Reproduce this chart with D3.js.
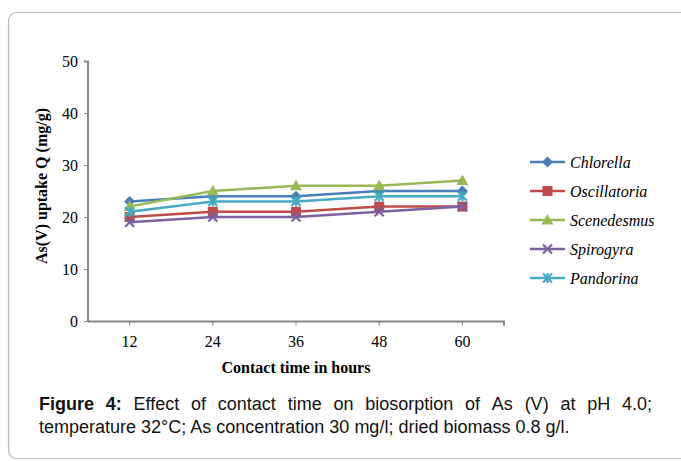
<!DOCTYPE html>
<html><head><meta charset="utf-8">
<script src="https://cdn.jsdelivr.net/npm/d3@7"></script>
<style>body{margin:0;background:#fff}svg{display:block}</style>
</head><body>
<svg id="c" width="681" height="461"></svg>
<script>
const categories = ["12","24","36","48","60"];
const seriesNames = ["Chlorella","Oscillatoria","Scenedesmus","Spirogyra","Pandorina"];
const chlorella = [23,24,24,25,25];
const oscillatoria = [20,21,21,22,22];
const scenedesmus = [22,25,26,26,27];
const spirogyra = [19,20,20,21,22];
const pandorina = [21,23,23,24,24];
const yTicks = [0,10,20,30,40,50];
const colors = ["#4A7EBB","#BE4B48","#98B954","#7D60A0","#46AAC5"];
const symbols = ["diamond","square","triangle","x","star"];
const values = [chlorella, oscillatoria, scenedesmus, spirogyra, pandorina];

const svg = d3.select("#c");
svg.append("rect").attr("x",8.5).attr("y",12.5).attr("width",700).attr("height",446)
  .attr("rx",8).attr("fill","none").attr("stroke","#b9b9b9").attr("stroke-width",1.2);

const x = d3.scaleBand().domain(categories).range([88,504]);
const y = d3.scaleLinear().domain([0,50]).range([321,61]);
const axisColor = "#868686";
const serif = "'Liberation Serif','Times New Roman',serif";

// y axis
const ya = svg.append("g").attr("transform","translate(88,0)")
  .call(d3.axisLeft(y).tickValues(yTicks).tickSize(4).tickPadding(6));
ya.select(".domain").attr("stroke",axisColor).attr("stroke-width",2).attr("d","M-4,61.5H0V321.5");
ya.selectAll(".tick line").attr("stroke",axisColor).attr("stroke-width",1);
ya.selectAll(".tick text").attr("font-family",serif).attr("font-size",16).attr("fill","#000");

// x axis
const xa = svg.append("g").attr("transform","translate(0,321.5)")
  .call(d3.axisBottom(x).tickSize(4).tickPadding(10));
xa.select(".domain").attr("stroke",axisColor).attr("stroke-width",2).attr("d","M88,0H504V4");
xa.selectAll(".tick line").attr("stroke",axisColor).attr("stroke-width",1);
xa.selectAll(".tick text").attr("font-family",serif).attr("font-size",16).attr("fill","#000");

svg.append("text").attr("x",296).attr("y",373).attr("text-anchor","middle")
  .attr("font-family",serif).attr("font-weight","bold").attr("font-size",16)
  .text("Contact time in hours");
svg.append("text").attr("transform","translate(47,186) rotate(-90)").attr("text-anchor","middle")
  .attr("font-family",serif).attr("font-weight","bold").attr("font-size",16)
  .text("As(V) uptake Q (mg/g)");

function drawMarker(g, sym, color, cx, cy){
  if(sym==="diamond"){
    g.append("path").attr("d",`M${cx},${cy-5.5}L${cx+5.5},${cy}L${cx},${cy+5.5}L${cx-5.5},${cy}Z`).attr("fill",color);
  } else if(sym==="square"){
    g.append("rect").attr("x",cx-5).attr("y",cy-5).attr("width",10).attr("height",10).attr("fill",color);
  } else if(sym==="triangle"){
    g.append("path").attr("d",`M${cx},${cy-6}L${cx+6},${cy+4.5}L${cx-6},${cy+4.5}Z`).attr("fill",color);
  } else if(sym==="x"){
    g.append("path").attr("d",`M${cx-4.5},${cy-4.5}L${cx+4.5},${cy+4.5}M${cx-4.5},${cy+4.5}L${cx+4.5},${cy-4.5}`)
      .attr("stroke",color).attr("stroke-width",2.2);
  } else {
    g.append("path").attr("d",`M${cx-4.5},${cy-4.5}L${cx+4.5},${cy+4.5}M${cx-4.5},${cy+4.5}L${cx+4.5},${cy-4.5}M${cx},${cy-5}V${cy+5}`)
      .attr("stroke",color).attr("stroke-width",2.2);
  }
}

const line = d3.line().x((d,i)=>x(categories[i])+x.bandwidth()/2).y(d=>y(d));
values.forEach((vals,si)=>{
  const g = svg.append("g");
  g.append("path").datum(vals).attr("d",line).attr("fill","none")
    .attr("stroke",colors[si]).attr("stroke-width",2.5);
  vals.forEach((v,i)=>drawMarker(g,symbols[si],colors[si],x(categories[i])+x.bandwidth()/2,y(v)));
});

// legend
const legendY = d3.scalePoint().domain(seriesNames).range([162,278]);
seriesNames.forEach((n,si)=>{
  const ly = legendY(n);
  const g = svg.append("g");
  g.append("line").attr("x1",530).attr("x2",565).attr("y1",ly).attr("y2",ly)
    .attr("stroke",colors[si]).attr("stroke-width",2.5);
  drawMarker(g,symbols[si],colors[si],547.5,ly);
  g.append("text").attr("x",570).attr("y",ly+5.5).attr("font-family",serif)
    .attr("font-style","italic").attr("font-size",16).text(n);
});

// caption (line 1 justified)
const sans = "'Liberation Sans',Arial,sans-serif";
const capG = svg.append("g").attr("transform","translate(39,0)");
const line1Words = ["Figure","4:","Effect","of","contact","time","on","biosorption","of","As","(V)","at","pH","4.0;"];
const targetLocal = 652-39;
const nodes = line1Words.map((wd,i)=>capG.append("text").attr("y",410).attr("font-family",sans)
  .attr("font-size",18).attr("fill","#111").attr("font-weight", i<2 ? "bold" : "normal").text(wd));
const widths = nodes.map(n=>n.node().getComputedTextLength());
const gap = (targetLocal - d3.sum(widths))/(line1Words.length-1);
let cx = 0;
nodes.forEach((n,i)=>{ n.attr("x",cx); cx += widths[i] + gap; });
capG.append("text").attr("x",0).attr("y",433).attr("font-family",sans).attr("font-size",18).attr("fill","#111")
  .text("temperature 32°C; As concentration 30 mg/l; dried biomass 0.8 g/l.");
</script>
</body></html>
